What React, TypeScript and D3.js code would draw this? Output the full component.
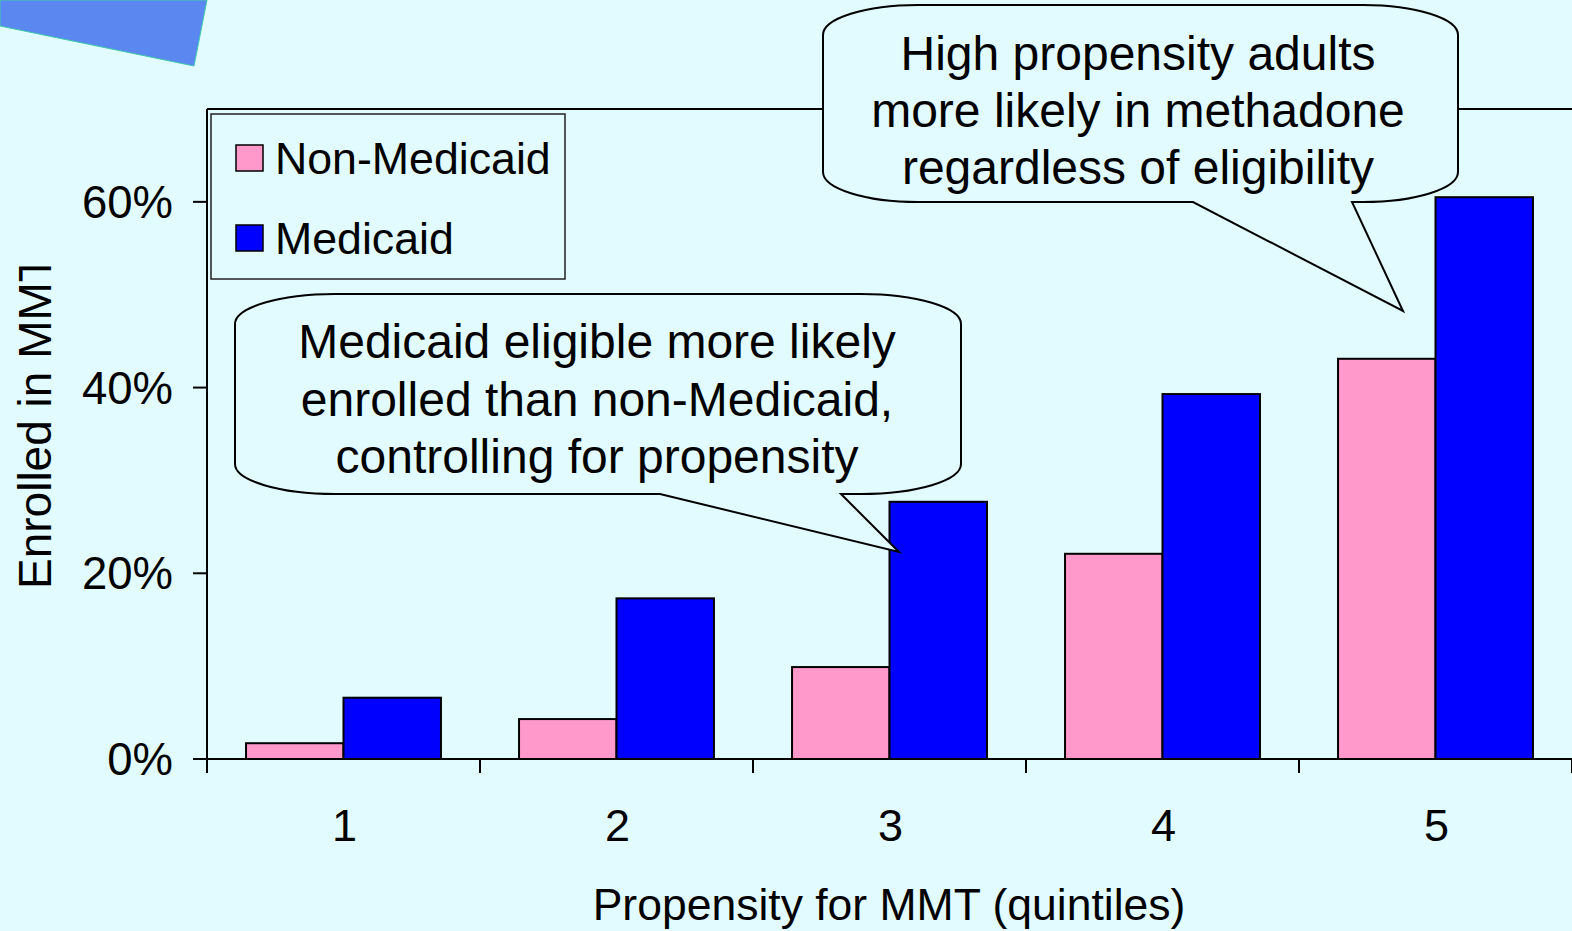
import React from "react";
import * as d3 from "d3";

const categories = ["1", "2", "3", "4", "5"];
const seriesNames = ["Non-Medicaid", "Medicaid"];
const nonMedicaid = [0.017, 0.043, 0.099, 0.221, 0.431];
const medicaid = [0.066, 0.173, 0.277, 0.393, 0.605];
const yTicks = [0, 0.2, 0.4, 0.6];
const colors = ["#FF99CC", "#0000FF"];
const callout1Lines = ["Medicaid eligible more likely", "enrolled than non-Medicaid,", "controlling for propensity"];
const callout2Lines = ["High propensity adults", "more likely in methadone", "regardless of eligibility"];

const W = 1572;
const H = 931;
const BG = "#E1FBFF";
const FONT = "'Liberation Sans', Arial, Helvetica, sans-serif";

function calloutPath(x0: number, y0: number, x1: number, y1: number, rx: number, ry: number, bl: number, br: number, tx: number, ty: number) {
  return [
    `M${x0},${y0 + ry}`,
    `A${rx},${ry} 0 0 1 ${x0 + rx},${y0}`,
    `H${x1 - rx}`,
    `A${rx},${ry} 0 0 1 ${x1},${y0 + ry}`,
    `V${y1 - ry}`,
    `A${rx},${ry} 0 0 1 ${x1 - rx},${y1}`,
    `H${br}`,
    `L${tx},${ty}`,
    `L${bl},${y1}`,
    `H${x0 + rx}`,
    `A${rx},${ry} 0 0 1 ${x0},${y1 - ry}`,
    "Z",
  ].join(" ");
}

export default function App() {
  const left = 207, right = 1572, top = 109, bottom = 759;
  const x = d3.scaleBand<string>().domain(categories).range([left, right]).paddingInner(0.286).paddingOuter(0.143);
  const xs = d3.scaleBand<string>().domain(seriesNames).range([0, x.bandwidth()]);
  const y = d3.scaleLinear().domain([0, 0.7]).range([bottom, top]);
  const series = [nonMedicaid, medicaid];
  const step = x.step();
  const xTickPos = d3.range(categories.length + 1).map((i) => left + i * step);

  return (
    <svg width={W} height={H} style={{ position: "absolute", left: 0, top: 0, display: "block" }} fontFamily={FONT}>
      <defs>
        <clipPath id="ytitleclip" clipPathUnits="userSpaceOnUse">
          <rect x={0} y={266.5} width={100} height={400} />
        </clipPath>
      </defs>
      <rect x={0} y={0} width={W} height={H} fill={BG} />
      <polygon points="0,0 207,0 194,66 0,26" fill="#5B88F0" stroke="#3FC8A8" strokeWidth={1} />

      {/* plot top border */}
      <line x1={left} x2={right} y1={top} y2={top} stroke="#000" strokeWidth={2} />

      {/* bars */}
      {categories.map((c, i) => (
        <g key={c}>
          {series.map((s, j) => (
            <rect
              key={j}
              x={(x(c) as number) + (xs(seriesNames[j]) as number)}
              y={y(s[i])}
              width={xs.bandwidth()}
              height={bottom - y(s[i])}
              fill={colors[j]}
              stroke="#000"
              strokeWidth={2}
            />
          ))}
        </g>
      ))}

      {/* y axis */}
      <line x1={left} x2={left} y1={top} y2={bottom} stroke="#000" strokeWidth={2} />
      {yTicks.map((t) => (
        <g key={t}>
          <line x1={left - 14} x2={left} y1={y(t)} y2={y(t)} stroke="#000" strokeWidth={2} />
          <text x={173} y={y(t) + 16} textAnchor="end" fontSize={45.5} fill="#000">
            {d3.format(".0%")(t)}
          </text>
        </g>
      ))}

      {/* x axis */}
      <line x1={left} x2={right} y1={bottom} y2={bottom} stroke="#000" strokeWidth={2} />
      {xTickPos.map((p, i) => (
        <line key={i} x1={p} x2={p} y1={bottom} y2={bottom + 14} stroke="#000" strokeWidth={2} />
      ))}
      {categories.map((c) => (
        <text key={c} x={(x(c) as number) + x.bandwidth() / 2 + 1} y={841} textAnchor="middle" fontSize={45} fill="#000">
          {c}
        </text>
      ))}
      <text x={889} y={920} textAnchor="middle" fontSize={44.5} fill="#000">
        Propensity for MMT (quintiles)
      </text>
      <g clipPath="url(#ytitleclip)">
        <text transform="translate(51,589) rotate(-90)" textAnchor="start" fontSize={46} fill="#000">
          Enrolled in MMT
        </text>
      </g>

      {/* legend */}
      <rect x={211} y={114} width={354} height={165} fill={BG} stroke="#222" strokeWidth={1.5} />
      {seriesNames.map((n, j) => (
        <g key={n}>
          <rect x={236} y={145 + j * 80} width={27} height={26} fill={colors[j]} stroke="#000" strokeWidth={1.5} />
          <text x={275} y={174 + j * 80} fontSize={44.7} fill="#000">
            {n}
          </text>
        </g>
      ))}

      {/* callout 1 */}
      <path d={calloutPath(235, 294, 961, 494, 100, 30, 660, 841, 899, 552)} fill={BG} stroke="#000" strokeWidth={2} />
      {callout1Lines.map((l, i) => (
        <text key={i} x={597} y={358 + i * 57.5} textAnchor="middle" fontSize={48} fill="#000">
          {l}
        </text>
      ))}

      {/* callout 2 */}
      <path d={calloutPath(823, 5, 1458, 202, 95, 30, 1193, 1352, 1403, 311)} fill={BG} stroke="#000" strokeWidth={2} />
      {callout2Lines.map((l, i) => (
        <text key={i} x={1138} y={70 + i * 57} textAnchor="middle" fontSize={48} fill="#000">
          {l}
        </text>
      ))}
    </svg>
  );
}
